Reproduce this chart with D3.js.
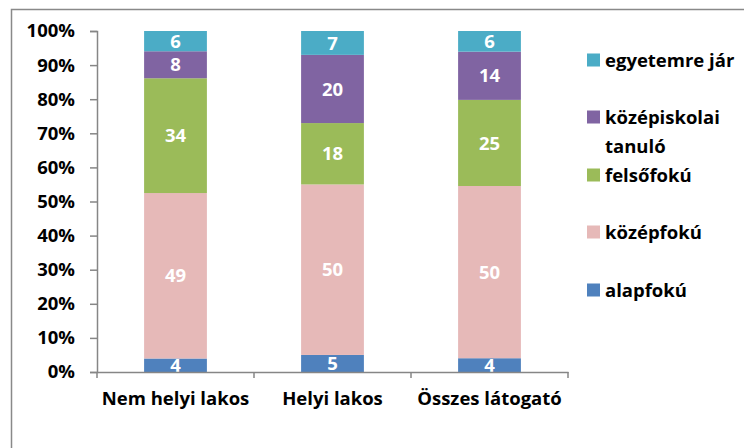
<!DOCTYPE html>
<html><head><meta charset="utf-8">
<script src="https://cdn.jsdelivr.net/npm/d3@7"></script>
<style>
body{margin:0;background:#fff;}
text{font-family:"Open Sans",sans-serif;font-weight:700;}
</style></head>
<body><svg id="c" width="744" height="448"></svg>
<script>
const categories = ["Nem helyi lakos", "Helyi lakos", "Összes látogató"];
const seriesNames = ["alapfokú", "középfokú", "felsőfokú", "középiskolai tanuló", "egyetemre jár"];
const alapfoku = [4, 5, 4];
const kozepfoku = [49, 50, 50];
const felsofoku = [34, 18, 25];
const kozepiskolai = [8, 20, 14];
const egyetemre = [6, 7, 6];
const yTicks = [0, 0.1, 0.2, 0.3, 0.4, 0.5, 0.6, 0.7, 0.8, 0.9, 1];
const colors = ["#4F81BD", "#E6B9B8", "#9BBB59", "#8064A2", "#4BACC6"];

const seriesValues = [alapfoku, kozepfoku, felsofoku, kozepiskolai, egyetemre];
const rows = categories.map((c, i) => {
  const r = {cat: c};
  seriesNames.forEach((s, j) => r[s] = seriesValues[j][i]);
  return r;
});

const FONT = '"Open Sans", sans-serif';
const FS = 18.5;

const svg = d3.select("#c");
svg.append("rect").attr("x", 11.5).attr("y", 9.5).attr("width", 800).attr("height", 500)
  .attr("fill", "none").attr("stroke", "#898989").attr("stroke-width", 1.5);

const x = d3.scaleBand().domain(categories).range([97, 568]).paddingInner(0.6).paddingOuter(0.3);
const y = d3.scaleLinear().domain([0, 1]).range([372, 31]);

const stack = d3.stack().keys(seriesNames).offset(d3.stackOffsetExpand);
const stacked = stack(rows);

const g = svg.append("g");
stacked.forEach((layer, j) => {
  g.selectAll(null).data(layer).enter().append("rect")
    .attr("x", d => x(d.data.cat))
    .attr("width", x.bandwidth())
    .attr("y", d => y(d[1]))
    .attr("height", d => y(d[0]) - y(d[1]))
    .attr("fill", colors[j]);
  g.selectAll(null).data(layer).enter().append("text")
    .attr("x", d => x(d.data.cat) + x.bandwidth() / 2)
    .attr("y", d => (y(d[0]) + y(d[1])) / 2)
    .attr("dy", "0.36em")
    .attr("text-anchor", "middle")
    .attr("fill", "#fff")
    .attr("font-size", FS)
    .text(d => d.data[layer.key]);
});

// y axis
const ya = svg.append("g").attr("transform", "translate(97,0)")
  .call(d3.axisLeft(y).tickValues(yTicks).tickFormat(d3.format(".0%")).tickSize(7).tickPadding(15));
ya.select(".domain").attr("stroke", "#868686").attr("stroke-width", 1.5);
ya.selectAll(".tick line").attr("stroke", "#868686").attr("stroke-width", 1.5);
ya.selectAll(".tick text").attr("font-size", FS).attr("fill", "#000")
  .attr("font-family", FONT).attr("font-weight", 700);

// x axis
const xa = svg.append("g").attr("transform", "translate(0,372)")
  .call(d3.axisBottom(x).tickSize(0).tickPadding(20));
xa.select(".domain").attr("stroke", "#868686").attr("stroke-width", 1.5);
xa.selectAll(".tick text").attr("font-size", FS).attr("fill", "#000")
  .attr("font-family", FONT).attr("font-weight", 700);
const step = x.step();
const x0 = x.range()[0];
d3.range(categories.length + 1).forEach(i => {
  xa.append("line").attr("x1", x0 + i * step).attr("x2", x0 + i * step)
    .attr("y1", 0).attr("y2", 6).attr("stroke", "#868686").attr("stroke-width", 1.5);
});

// legend
const legendOrder = [4, 3, 2, 1, 0];
const legendY = [60, 117, 175, 232, 290];
const lg = svg.append("g");
legendOrder.forEach((j, k) => {
  const yy = legendY[k];
  lg.append("rect").attr("x", 587).attr("y", yy - 6.5).attr("width", 13).attr("height", 13).attr("fill", colors[j]);
  const words = seriesNames[j] === "középiskolai tanuló" ? ["középiskolai", "tanuló"] : [seriesNames[j]];
  const t = lg.append("text").attr("x", 605).attr("y", yy).attr("font-size", FS).attr("fill", "#000");
  words.forEach((w, i) => t.append("tspan").attr("x", 605).attr("dy", i === 0 ? "0.36em" : 29).text(w));
});
</script></body></html>
